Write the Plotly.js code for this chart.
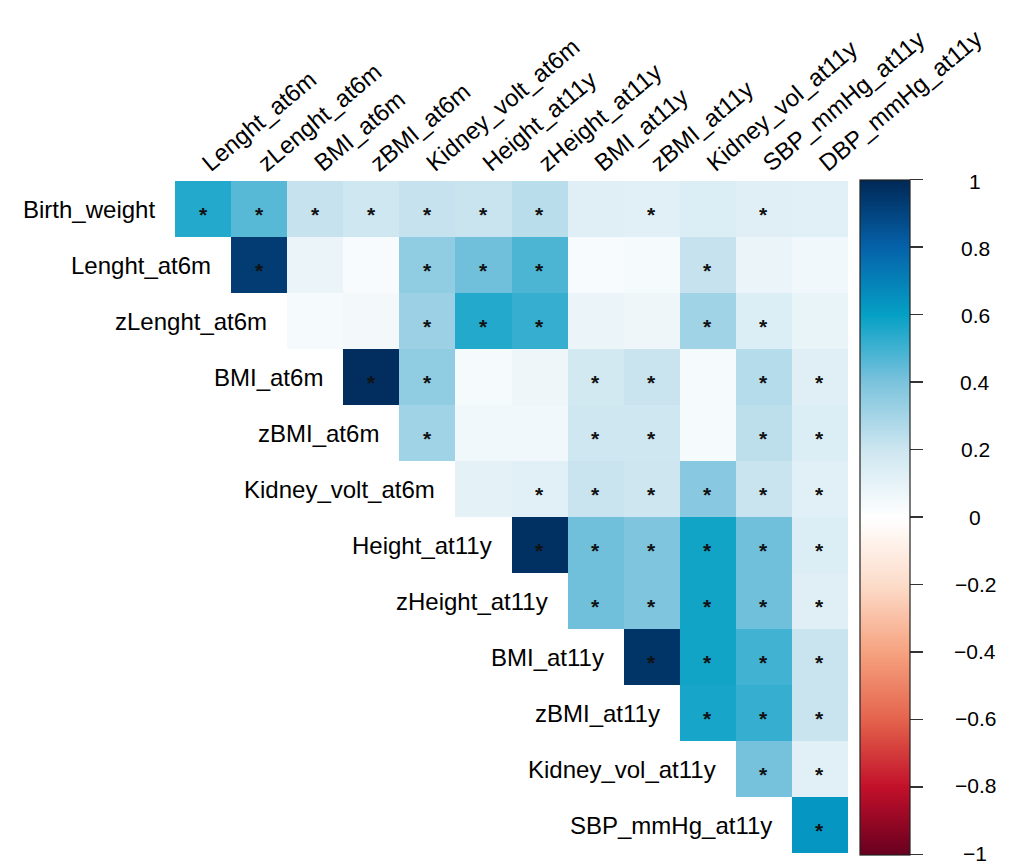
<!DOCTYPE html>
<html>
<head>
<meta charset="utf-8">
<script src="https://cdn.plot.ly/plotly-3.0.1.min.js"></script>
<style>
  html, body { margin: 0; padding: 0; background: #ffffff; }
  #chart { width: 1011px; height: 865px; }
</style>
</head>
<body>
<div id="chart"></div>
<script>
// Column variables (top labels)
const columns = ["Lenght_at6m", "zLenght_at6m", "BMI_at6m", "zBMI_at6m", "Kidney_volt_at6m",
  "Height_at11y", "zHeight_at11y", "BMI_at11y", "zBMI_at11y", "Kidney_vol_at11y",
  "SBP_mmHg_at11y", "DBP_mmHg_at11y"];
// Row variables (left labels)
const rowNames = ["Birth_weight", "Lenght_at6m", "zLenght_at6m", "BMI_at6m", "zBMI_at6m",
  "Kidney_volt_at6m", "Height_at11y", "zHeight_at11y", "BMI_at11y", "zBMI_at11y",
  "Kidney_vol_at11y", "SBP_mmHg_at11y"];

// Correlation values, upper triangle: row i starts at column i
const corrBirthWeight   = [0.55, 0.46, 0.22, 0.19, 0.22, 0.21, 0.25, 0.13, 0.12, 0.14, 0.13, 0.12];
const corrLenght6m      = [0.93, 0.08, 0.03, 0.35, 0.42, 0.48, 0.03, 0.04, 0.22, 0.08, 0.06];
const corrZLenght6m     = [0.04, 0.05, 0.32, 0.55, 0.52, 0.08, 0.07, 0.31, 0.14, 0.09];
const corrBMI6m         = [0.98, 0.35, 0.04, 0.07, 0.18, 0.21, 0.04, 0.26, 0.13];
const corrZBMI6m        = [0.31, 0.06, 0.06, 0.19, 0.19, 0.04, 0.24, 0.14];
const corrKidney6m      = [0.11, 0.12, 0.21, 0.20, 0.37, 0.21, 0.12];
const corrHeight11y     = [0.97, 0.42, 0.39, 0.58, 0.42, 0.14];
const corrZHeight11y    = [0.42, 0.39, 0.58, 0.42, 0.13];
const corrBMI11y        = [0.96, 0.58, 0.50, 0.21];
const corrZBMI11y       = [0.57, 0.52, 0.21];
const corrKidney11y     = [0.41, 0.12];
const corrSBP11y        = [0.63];

// Significance flags (1 = "*"), same layout
const sigBirthWeight = [1, 1, 1, 1, 1, 1, 1, 0, 1, 0, 1, 0];
const sigLenght6m    = [1, 0, 0, 1, 1, 1, 0, 0, 1, 0, 0];
const sigZLenght6m   = [0, 0, 1, 1, 1, 0, 0, 1, 1, 0];
const sigBMI6m       = [1, 1, 0, 0, 1, 1, 0, 1, 1];
const sigZBMI6m      = [1, 0, 0, 1, 1, 0, 1, 1];
const sigKidney6m    = [0, 1, 1, 1, 1, 1, 1];
const sigHeight11y   = [1, 1, 1, 1, 1, 1];
const sigZHeight11y  = [1, 1, 1, 1, 1];
const sigBMI11y      = [1, 1, 1, 1];
const sigZBMI11y     = [1, 1, 1];
const sigKidney11y   = [1, 1];
const sigSBP11y      = [1];

// Colorbar tick values and labels
const cbTickValues = [1, 0.8, 0.6, 0.4, 0.2, 0, -0.2, -0.4, -0.6, -0.8, -1];
const cbTickLabels = ["1", "0.8", "0.6", "0.4", "0.2", "0", "\u22120.2", "\u22120.4", "\u22120.6", "\u22120.8", "\u22121"];

const corrRows = [corrBirthWeight, corrLenght6m, corrZLenght6m, corrBMI6m, corrZBMI6m, corrKidney6m,
  corrHeight11y, corrZHeight11y, corrBMI11y, corrZBMI11y, corrKidney11y, corrSBP11y];
const sigRows = [sigBirthWeight, sigLenght6m, sigZLenght6m, sigBMI6m, sigZBMI6m, sigKidney6m,
  sigHeight11y, sigZHeight11y, sigBMI11y, sigZBMI11y, sigKidney11y, sigSBP11y];

const FONT = "'Liberation Sans', Arial, sans-serif";

// Build full z matrix with nulls below diagonal
const z = rowNames.map((r, i) => columns.map((c, j) => (j >= i ? corrRows[i][j - i] : null)));

const colorscale = [
  [0.00, "#67001F"],
  [0.10, "#C2102A"],
  [0.20, "#E4634C"],
  [0.30, "#F6A27F"],
  [0.40, "#FCDCC9"],
  [0.50, "#FFFFFF"],
  [0.60, "#CDE6F0"],
  [0.70, "#7CC3DD"],
  [0.80, "#05A0C5"],
  [0.90, "#0562AA"],
  [1.00, "#002856"]
];

const heat = {
  type: "heatmap",
  x: columns,
  y: rowNames,
  z: z,
  zmin: -1,
  zmax: 1,
  colorscale: colorscale,
  hoverongaps: false,
  hoverinfo: "skip",
  xgap: 0,
  ygap: 0,
  colorbar: {
    x: (860 - 175) / 673,
    xanchor: "left",
    xpad: 0,
    y: 0.5,
    yanchor: "middle",
    ypad: 0,
    len: 1.005,
    lenmode: "fraction",
    thickness: 50,
    thicknessmode: "pixels",
    outlinewidth: 1.2,
    outlinecolor: "#222",
    ticks: "outside",
    ticklen: 13,
    tickwidth: 1.5,
    tickcolor: "#333",
    tickvals: cbTickValues,
    showticklabels: false
  }
};

const annotations = [];
// Row labels placed left of the first cell in each row
rowNames.forEach((r, i) => {
  annotations.push({
    x: i - 0.5, y: r, xref: "x", yref: "y",
    text: r, showarrow: false,
    xanchor: "right", yanchor: "middle", xshift: -18,
    font: { family: FONT, size: 24, color: "#000" }
  });
});
// Significance stars
rowNames.forEach((r, i) => {
  sigRows[i].forEach((s, k) => {
    if (s) {
      annotations.push({
        x: columns[i + k], y: r, xref: "x", yref: "y",
        text: "<b>*</b>", showarrow: false,
        xanchor: "center", yanchor: "middle", yshift: -5,
        font: { family: FONT, size: 21, color: "#111" }
      });
    }
  });
});
// Colorbar labels (centered)
cbTickValues.forEach((v, k) => {
  annotations.push({
    x: (975 - 175) / 673, y: (v + 1) / 2, xref: "paper", yref: "paper",
    text: cbTickLabels[k], showarrow: false,
    xanchor: "center", yanchor: "middle",
    font: { family: FONT, size: 21, color: "#000" }
  });
});

const layout = {
  width: 1011,
  height: 865,
  margin: { l: 175, r: 163, t: 181, b: 10 },
  paper_bgcolor: "#ffffff",
  plot_bgcolor: "#ffffff",
  font: { family: FONT, size: 24, color: "#000" },
  showlegend: false,
  xaxis: {
    type: "category",
    side: "top",
    range: [-0.5, 11.5],
    tickangle: -40,
    tickfont: { family: FONT, size: 24, color: "#000" },
    showgrid: false, zeroline: false, showline: false, ticks: "",
    fixedrange: true
  },
  yaxis: {
    type: "category",
    range: [11.5, -0.5],
    showticklabels: false,
    showgrid: false, zeroline: false, showline: false, ticks: "",
    fixedrange: true
  },
  annotations: annotations
};

Plotly.newPlot("chart", [heat], layout, { displayModeBar: false, staticPlot: true });
</script>
</body>
</html>
